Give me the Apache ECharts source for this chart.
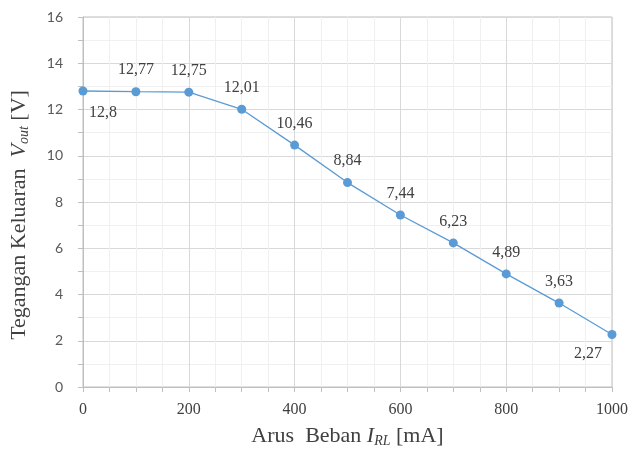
<!DOCTYPE html>
<html>
<head>
<meta charset="utf-8">
<script src="https://cdn.jsdelivr.net/npm/echarts@6/dist/echarts.min.js"></script>
<style>
  html, body { margin: 0; padding: 0; background: #fff; }
  #chart { width: 632px; height: 453px; }
</style>
</head>
<body>
<div id="chart"></div>
<script>
  // arus beban (mA) dan tegangan keluaran (V)
  var arus = [0, 100, 200, 300, 400, 500, 600, 700, 800, 900, 1000];
  var tegangan = [12.8, 12.77, 12.75, 12.01, 10.46, 8.84, 7.44, 6.23, 4.89, 3.63, 2.27];

  var serif = '"Liberation Serif", "Times New Roman", serif';
  var gridColor = '#d9d9d9';
  var minorColor = '#f0f0f0';
  var axisColor = '#bfbfbf';

  var points = arus.map(function (x, i) {
    var item = { value: [x, tegangan[i]] };
    if (i === 0) {
      item.label = { position: 'bottom', offset: [20, 0] };
    } else if (i === arus.length - 1) {
      item.label = { position: 'bottom', offset: [-24, -2] };
    }
    return item;
  });

  var myChart = echarts.init(document.getElementById('chart'));
  myChart.setOption({
    animation: false,
    grid: {
      left: 83,
      right: 20,
      top: 17,
      bottom: 63,
      show: true,
      borderColor: axisColor,
      borderWidth: 1
    },
    xAxis: {
      type: 'value',
      min: 0,
      max: 1000,
      interval: 200,
      name: '{a|Arus  Beban }{i|I}{s|RL}{a| [mA]}',
      nameLocation: 'middle',
      nameGap: 37,
      nameTextStyle: {
        rich: {
          a: { fontFamily: serif, fontSize: 22, color: '#404040' },
          i: { fontFamily: serif, fontSize: 22, fontStyle: 'italic', color: '#404040' },
          s: { fontFamily: serif, fontSize: 14, fontStyle: 'italic', color: '#404040', padding: [10, 0, 0, 0] }
        }
      },
      axisLine: { lineStyle: { color: axisColor } },
      axisTick: { show: true, length: 5, lineStyle: { color: axisColor } },
      minorTick: { show: true, splitNumber: 4, length: 5, lineStyle: { color: axisColor } },
      splitLine: { show: true, lineStyle: { color: gridColor } },
      minorSplitLine: { show: true, lineStyle: { color: minorColor } },
      axisLabel: {
        fontFamily: serif, fontSize: 16, color: '#404040', margin: 15,
        formatter: function (v) { return String(v); }
      }
    },
    yAxis: {
      type: 'value',
      min: 0,
      max: 16,
      interval: 2,
      name: '{a|Tegangan Keluaran  }{i|V}{s|out}{b| [V]}',
      nameLocation: 'middle',
      nameGap: 52,
      nameTextStyle: {
        rich: {
          a: { fontFamily: serif, fontSize: 22, color: '#404040' },
          b: { fontFamily: serif, fontSize: 22, color: '#404040', padding: [0, 26, 0, 0] },
          i: { fontFamily: serif, fontSize: 22, fontStyle: 'italic', color: '#404040' },
          s: { fontFamily: serif, fontSize: 14, fontStyle: 'italic', color: '#404040', padding: [10, 0, 0, 0] }
        }
      },
      axisLine: { show: true, lineStyle: { color: axisColor } },
      axisTick: { show: true, length: 5, lineStyle: { color: axisColor } },
      minorTick: { show: true, splitNumber: 2, length: 5, lineStyle: { color: axisColor } },
      splitLine: { show: true, lineStyle: { color: gridColor } },
      minorSplitLine: { show: true, lineStyle: { color: minorColor } },
      axisLabel: { fontFamily: 'Lato, "Open Sans", sans-serif', fontSize: 14, color: '#595959', margin: 20 }
    },
    series: [{
      type: 'line',
      data: points,
      symbol: 'circle',
      symbolSize: 9,
      lineStyle: { color: '#5b9bd5', width: 1.3 },
      itemStyle: { color: '#5b9bd5' },
      label: {
        show: true,
        position: 'top',
        distance: 9,
        fontFamily: serif,
        fontSize: 16,
        color: '#404040',
        formatter: function (p) {
          return String(p.value[1]).replace('.', ',');
        }
      }
    }]
  });
</script>
</body>
</html>
